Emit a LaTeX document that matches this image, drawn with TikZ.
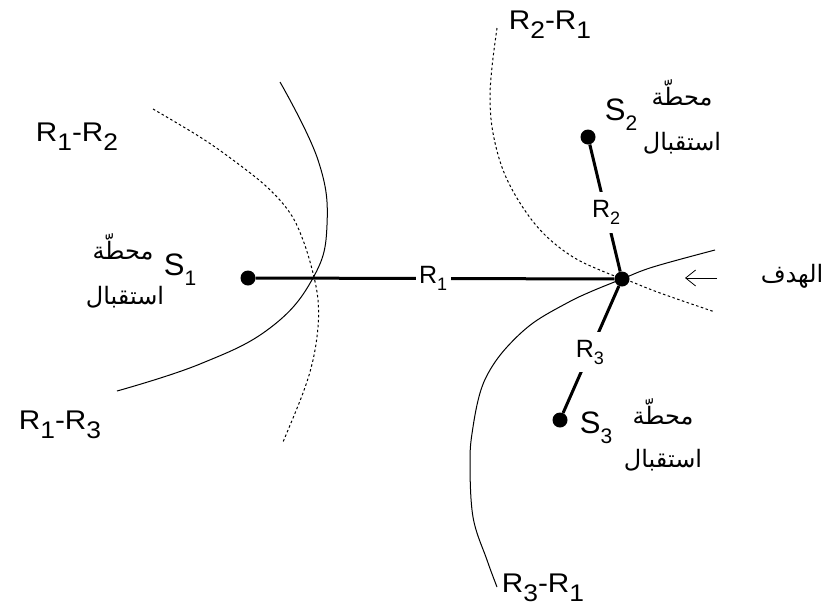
\documentclass[tikz,border=0pt]{standalone}
\usepackage{fontspec}
\setmainfont{Liberation Sans}
\newfontfamily\arabicfont[Script=Arabic]{DejaVu Sans}
\TeXXeTstate=1
\usetikzlibrary{arrows.meta}
\newcommand\bigsub[1]{\raisebox{-9pt}{\fontsize{24}{24}\selectfont #1}}
\newcommand\ssub[1]{\raisebox{-10pt}{\fontsize{21}{21}\selectfont #1}}
\newcommand\lsub[1]{\raisebox{-7pt}{\fontsize{18}{18}\selectfont #1}}
\newcommand\ar[1]{{\arabicfont\beginR #1\endR}}
\newcommand\wide[1]{\scalebox{1.1}[1]{#1}}
\tikzset{
  dot/.style={circle,fill=black,inner sep=0pt,minimum size=15pt},
  link/.style={line width=3pt},
  lbl/.style={fill=white,inner xsep=3.5pt,inner ysep=8pt,font=\fontsize{25}{25}\selectfont},
  difflbl/.style={inner sep=0pt,font=\fontsize{27}{27}\selectfont},
  slbl/.style={inner sep=0pt,font=\fontsize{31}{31}\selectfont},
  arlbl/.style={inner sep=0pt,font=\fontsize{24}{28}\selectfont},
  solidcurve/.style={line width=1pt},
  dotcurve/.style={line width=1pt,dash pattern=on 2.5pt off 2.5pt},
}
\begin{document}
\begin{tikzpicture}[x=1pt,y=-1pt]
\useasboundingbox (0,0) rectangle (827,611);
% curves
\draw[solidcurve] plot[smooth,tension=0.7] coordinates {(280,82) (318,160) (327,225) (313,278) (270,328) (200,364) (117,391)};
\draw[dotcurve] plot[smooth,tension=0.6] coordinates {(153,109) (200,137) (233,160) (267,187) (290,213) (303,240) (313,273) (318,300) (318,327) (313,360) (303,393) (283,442)};
\draw[solidcurve] plot[smooth,tension=0.6] coordinates {(715,250) (653,267) (622,279) (590,292) (567,303) (533,323) (507,347) (490,370) (480,393) (473,427) (470,460) (473,517) (487,560) (497,587)};
\draw[dotcurve] plot[smooth,tension=0.6] coordinates {(497,28) (492,67) (490,100) (493,133) (503,170) (520,203) (543,233) (573,257) (607,273) (627,280) (660,293) (715,312)};
% stations and target
\node[dot] (s1) at (248,278) {};
\node[dot] (s2) at (588,137) {};
\node[dot] (s3) at (560,420) {};
\node[dot] (t) at (622,279) {};
\draw[link] (s1) -- node[lbl,pos=0.495] (r1) {R\lsub{1}} (t);
\draw[link] (s2) -- node[lbl,pos=0.535] (r2) {R\lsub{2}} (t);
\draw[link] (t) -- node[lbl,pos=0.52] (r3) {R\lsub{3}} (s3);
% arrow to target
\node[arlbl] (goal) at (792,276) {\ar{الهدف}};
\coordinate (tip) at (685,278);
\coordinate (tail) at (717,278);
\draw[line width=0.8pt,-{Straight Barb[length=10pt,width=16pt]}] (tail) -- (tip);
% labels
\node[difflbl] (d12) at (77,137) {\wide{R\bigsub{1}-R\bigsub{2}}};
\node[difflbl] (d13) at (60,425) {\wide{R\bigsub{1}-R\bigsub{3}}};
\node[difflbl] (d21) at (550,25) {\wide{R\bigsub{2}-R\bigsub{1}}};
\node[difflbl] (d31) at (543,588) {\wide{R\bigsub{3}-R\bigsub{1}}};
\node[slbl] (l1) at (180,270) {S\ssub{1}};
\node[slbl] (l2) at (621,115) {S\ssub{2}};
\node[slbl] (l3) at (596,428) {S\ssub{3}};
\node[arlbl] (a1) at (123,247) {\ar{محطّة}};
\node[arlbl] (b1) at (125,297) {\ar{استقبال}};
\node[arlbl] (a2) at (682,93) {\ar{محطّة}};
\node[arlbl] (b2) at (682,143) {\ar{استقبال}};
\node[arlbl] (a3) at (663,412) {\ar{محطّة}};
\node[arlbl] (b3) at (663,460) {\ar{استقبال}};
\end{tikzpicture}
\end{document}
